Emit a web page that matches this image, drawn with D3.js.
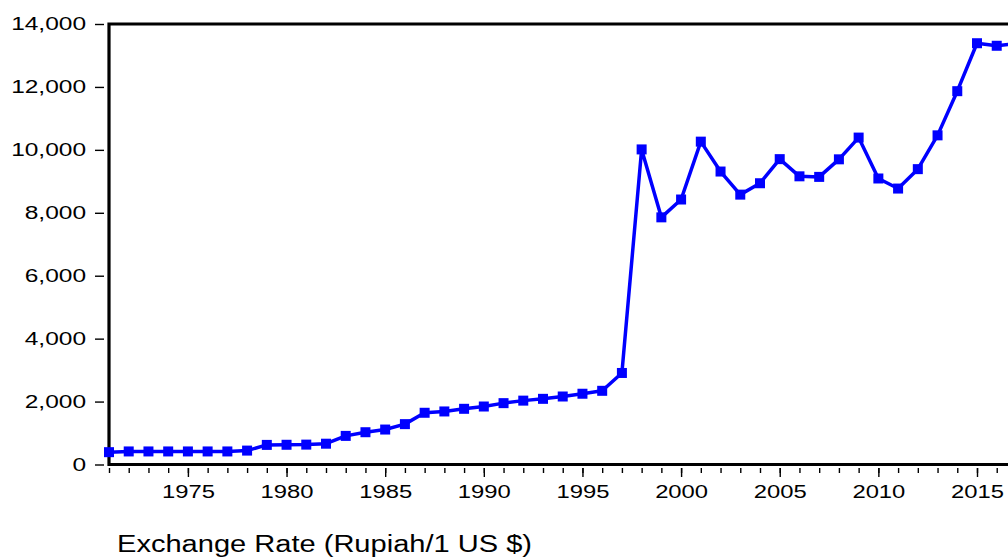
<!DOCTYPE html>
<html>
<head>
<meta charset="UTF-8">
<title>Exchange Rate</title>
<script src="https://d3js.org/d3.v7.min.js"></script>
<style>
body { margin: 0; background: #fff; }
svg { display: block; font-family: "Liberation Sans", Arial, sans-serif; }
</style>
</head>
<body>
<div id="chart"></div>
<script>
// years and values (Rupiah per 1 US $)
var years = [1971,1972,1973,1974,1975,1976,1977,1978,1979,1980,
             1981,1982,1983,1984,1985,1986,1987,1988,1989,1990,
             1991,1992,1993,1994,1995,1996,1997,1998,1999,2000,
             2001,2002,2003,2004,2005,2006,2007,2008,2009,2010,
             2011,2012,2013,2014,2015,2016,2017];
var rates = [392,415,415,415,415,415,415,442,623,627,
             632,661,909,1026,1111,1283,1644,1686,1770,1843,
             1950,2030,2087,2161,2249,2342,2909,10014,7855,8422,
             10261,9311,8577,8939,9705,9159,9141,9699,10390,9090,
             8770,9387,10461,11865,13389,13308,13381];
var yTicks = [0,2000,4000,6000,8000,10000,12000,14000];
var majorYears = [1975,1980,1985,1990,1995,2000,2005,2010,2015];
var title = "Exchange Rate (Rupiah/1 US $)";

var W = 1008, H = 559;
var stretch = 1.36; // labels in the picture are drawn wide

var svg = d3.select("#chart").append("svg")
  .attr("width", W).attr("height", H);

var x = d3.scaleLinear().domain([1971, 2015]).range([109, 977]);
var y = d3.scaleLinear().domain([0, 14000]).range([464.5, 24]);

function widen(sel) {
  sel.selectAll("text").each(function() {
    var t = d3.select(this);
    t.attr("textLength", this.getComputedTextLength() * stretch)
     .attr("lengthAdjust", "spacingAndGlyphs");
  });
}

// y axis, ticks sit a little left of the frame
var yAxis = svg.append("g")
  .attr("transform", "translate(104,0)")
  .call(d3.axisLeft(y).tickValues(yTicks).tickSize(9).tickPadding(9)
    .tickFormat(d3.format(",")));
yAxis.select(".domain").remove();
yAxis.selectAll("line").attr("stroke", "#000").attr("stroke-width", 1.4);
yAxis.selectAll("text").attr("font-size", 18).attr("fill", "#000")
  .attr("font-family", "Liberation Sans, Arial, sans-serif");
widen(yAxis);

// x axis: minor ticks every year, longer ones every 5 years
var minorYears = d3.range(1971, 2018);
var xMinor = svg.append("g")
  .attr("transform", "translate(0,468)")
  .call(d3.axisBottom(x).tickValues(minorYears).tickSize(5).tickFormat(""));
xMinor.select(".domain").remove();
xMinor.selectAll("line").attr("stroke", "#000").attr("stroke-width", 1.4);

var xMajor = svg.append("g")
  .attr("transform", "translate(0,468)")
  .call(d3.axisBottom(x).tickValues(majorYears).tickSize(9).tickPadding(9)
    .tickFormat(d3.format("d")));
xMajor.select(".domain").remove();
xMajor.selectAll("line").attr("stroke", "#000").attr("stroke-width", 1.4);
xMajor.selectAll("text").attr("font-size", 17.5).attr("fill", "#000")
  .attr("font-family", "Liberation Sans, Arial, sans-serif");
widen(xMajor);

// frame (right side is cut off in the picture)
svg.append("path")
  .attr("d", "M" + (W + 10) + "," + y(14000) + "H" + x(1971) + "V" + y(0) + "H" + (W + 10))
  .attr("fill", "none").attr("stroke", "#000").attr("stroke-width", 3.2);

// series
var data = years.map(function(d, i) { return {year: d, value: rates[i]}; });

var line = d3.line()
  .x(function(d) { return x(d.year); })
  .y(function(d) { return y(d.value); });

svg.append("path")
  .datum(data)
  .attr("d", line)
  .attr("fill", "none")
  .attr("stroke", "#0000ff")
  .attr("stroke-width", 3.5)
  .attr("stroke-linejoin", "round");

var ms = 10;
svg.selectAll("rect.pt")
  .data(data)
  .enter().append("rect")
  .attr("class", "pt")
  .attr("x", function(d) { return x(d.year) - ms / 2; })
  .attr("y", function(d) { return y(d.value) - ms / 2; })
  .attr("width", ms).attr("height", ms)
  .attr("fill", "#0000ff");

// caption under the chart
svg.append("text")
  .attr("x", 117).attr("y", 552)
  .attr("font-size", 23)
  .attr("fill", "#000")
  .attr("textLength", 415)
  .attr("lengthAdjust", "spacingAndGlyphs")
  .text(title);
</script>
</body>
</html>
